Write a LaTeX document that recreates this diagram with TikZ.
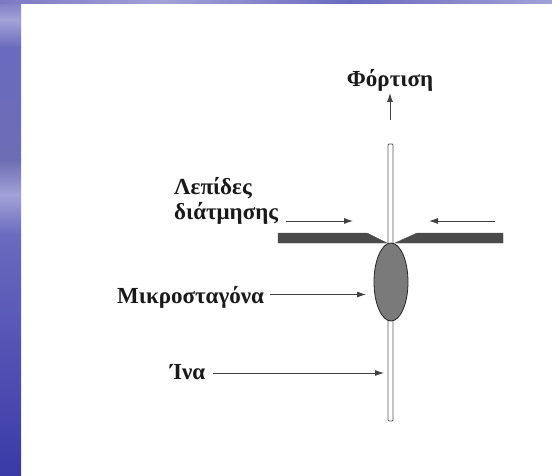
\documentclass[tikz,border=0pt]{standalone}
\usepackage{fontspec}
\setmainfont{Liberation Serif}
\usetikzlibrary{arrows.meta,shapes.geometric}
\definecolor{bgDark}{HTML}{3A3AA8}
\definecolor{bgMid}{HTML}{6A6ABF}
\definecolor{bgLight}{HTML}{A2A2D8}
\definecolor{bgTop}{HTML}{7D78C4}
\definecolor{bladeC}{HTML}{4A4A4A}
\definecolor{dropC}{HTML}{7A7A7A}
\tikzset{x=1pt,y=-1pt,
 lab/.style={font=\bfseries\fontsize{23}{25}\selectfont,text=black!90,inner sep=0pt},
 arr/.style={draw=black!75,line width=0.9pt,-{Latex[length=9pt,width=6pt]}},
 blade/.style={fill=bladeC,draw=black!70,line width=0.4pt},
}
\begin{document}
\begin{tikzpicture}
\useasboundingbox (0,0) rectangle (552,476);
\fill[white] (0,0) rectangle (552,476);
% slide background
\shade[top color=bgTop,bottom color=bgLight] (0,0) rectangle (21,20);
\shade[top color=bgLight,bottom color=bgMid] (0,20) rectangle (21,48);
\shade[top color=bgMid,bottom color=bgMid!85!gray] (0,48) rectangle (21,160);
\shade[top color=bgMid!85!gray,bottom color=bgLight] (0,160) rectangle (21,195);
\shade[top color=bgLight,bottom color=bgMid] (0,195) rectangle (21,235);
\shade[top color=bgMid,bottom color=bgDark] (0,235) rectangle (21,476);
\shade[left color=bgTop,right color=bgLight] (0,0) rectangle (165,4);
\shade[left color=bgLight,right color=bgMid] (165,0) rectangle (350,4);
\shade[left color=bgMid,right color=bgLight] (350,0) rectangle (552,4);
% fibre
\draw[draw=black!65,fill=white,line width=0.8pt,rounded corners=1pt] (388,144) rectangle (393,421);
% blades
\path[blade] (278,233) -- (367,233) -- (387,243) -- (278,243) -- cycle;
\path[blade] (503,233) -- (417,233) -- (395,243) -- (503,243) -- cycle;
% droplet
\node[draw=black!85,fill=dropC,line width=0.8pt,ellipse,minimum width=34pt,minimum height=78pt,inner sep=0pt] (drop) at (391,282) {};
% labels
\node[lab,anchor=base] (load) at (390,87) {Φόρτιση};
\node[lab,anchor=base west] (lep) at (174,195) {Λεπίδες};
\node[lab,anchor=base west] (dia) at (174,219) {διάτμησης};
\node[lab,anchor=base west] (mik) at (117,303) {Μικροσταγόνα};
\node[lab,anchor=base west] (ina) at (170,379) {Ίνα};
% connectors
\coordinate (upS) at (390,120);
\coordinate (upE) at (390,93);
\coordinate (lbS) at (286,221);
\coordinate (lbE) at (353,221);
\coordinate (rbS) at (495,221);
\coordinate (rbE) at (429,221);
\coordinate (dropS) at (270,294.5);
\coordinate (dropW) at (366,294.5);
\coordinate (fibS) at (213,373);
\coordinate (fibW) at (384,373);
\draw[arr] (upS) -- (upE);
\draw[arr] (lbS) -- (lbE);
\draw[arr] (rbS) -- (rbE);
\draw[arr] (dropS) -- (dropW);
\draw[arr] (fibS) -- (fibW);
\end{tikzpicture}
\end{document}
